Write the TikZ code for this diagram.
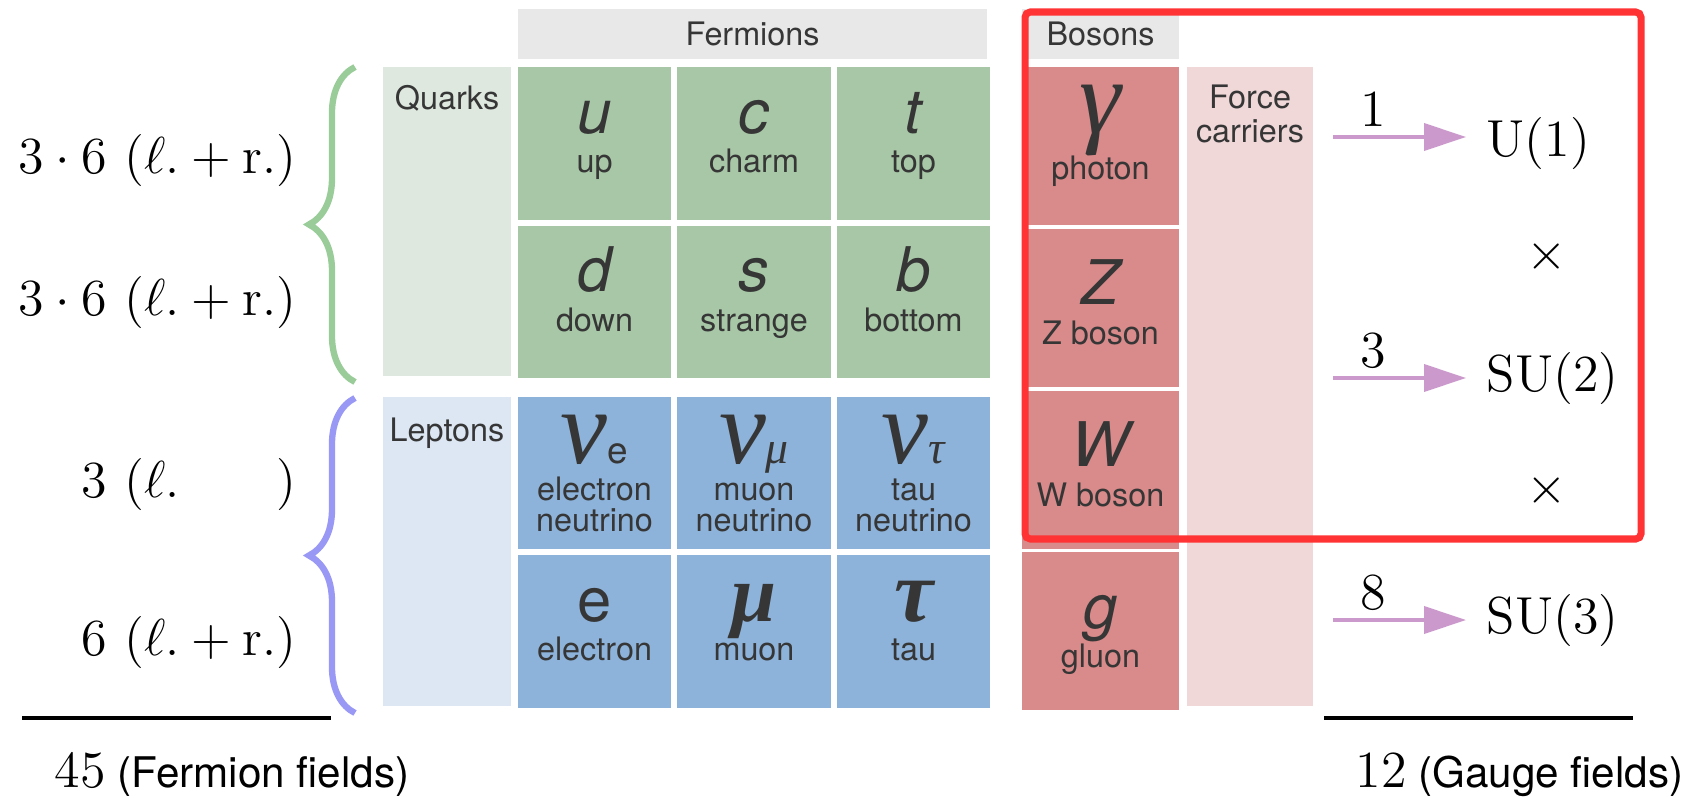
\RequirePackage{fix-cm}
\documentclass[tikz,border=0pt]{standalone}
\usepackage{amsmath}
\usepackage{fontspec}
\setsansfont{TeX Gyre Heros}
\newfontfamily\grk{Liberation Serif}
\usetikzlibrary{arrows.meta,positioning,calc,decorations.pathreplacing}
\definecolor{hdrgray}{HTML}{E8E8E8}
\definecolor{qkgreen}{HTML}{A7C7A7}
\definecolor{qkpale}{HTML}{DEE8DE}
\definecolor{lpblue}{HTML}{8DB3DA}
\definecolor{lppale}{HTML}{DCE7F3}
\definecolor{bsred}{HTML}{D98A8A}
\definecolor{bspale}{HTML}{F0D8D9}
\definecolor{brgreen}{HTML}{99CC99}
\definecolor{brblue}{HTML}{9999F5}
\definecolor{arrpink}{HTML}{CC99CC}
\definecolor{boxred}{HTML}{FF3333}
\definecolor{ink}{HTML}{363636}
\newcommand\cellfont{\sffamily\fontsize{9.2}{11.2}\selectfont}
\newcommand\mathsz{\fontsize{14.8}{17}\selectfont}
\newcommand\csym[1]{{\fontsize{17.5}{17.5}\selectfont\itshape\rule{0pt}{14pt}#1}}
\newcommand\gsym[2]{{\grk\fontsize{#1}{#1}\selectfont\rule{0pt}{14pt}#2}}
\newcommand\cname[2][8.7pt]{#2\rule[-#1]{0pt}{#1}}
\tikzset{
  hdr/.style={rectangle, fill=hdrgray, text=ink, font=\cellfont, minimum height=0.5cm, inner sep=0pt},
  cell/.style={rectangle, fill=#1, text=ink, font=\cellfont, align=center, inner sep=0pt,
               minimum width=1.53cm, minimum height=1.52cm},
  bcell/.style={cell=bsred, minimum width=1.57cm, minimum height=1.58cm},
  col/.style={rectangle, fill=#1, inner sep=0pt},
  collab/.style={text=ink, font=\cellfont, inner sep=0pt, anchor=north, align=center},
  mathlbl/.style={font=\mathsz, inner sep=0pt},
  curly/.style={decorate, decoration={brace, amplitude=0.46cm}, draw=#1, line width=1.8pt},
  garr/.style={-{Triangle[length=0.42cm, width=0.27cm]}, line width=1.1pt, draw=arrpink},
  grp/.style={font=\mathsz, anchor=west, inner sep=0.2cm},
  sumline/.style={line width=1.1pt},
  total/.style={font=\sffamily\fontsize{12}{14}\selectfont, anchor=base west, inner sep=0pt},
  redbox/.style={draw=boxred, line width=2pt, rounded corners=1.5pt},
}

\begin{document}
\begin{tikzpicture}[x=0.01cm, y=-0.01cm, node distance=0.05cm]
  \useasboundingbox (0,0) rectangle (1704,797);

  % headers
  \node[hdr, minimum width=4.69cm] (ferm) at (752.5,34) {Fermions};
  \node[hdr, minimum width=1.57cm] (bos) at (1100.5,34) {Bosons};

  % side columns
  \node[col=qkpale, minimum width=1.28cm, minimum height=3.09cm] (qcol) at (447,221.5) {};
  \node[col=lppale, minimum width=1.28cm, minimum height=3.09cm] (lcol) at (447,551.5) {};
  \node[col=bspale, minimum width=1.26cm, minimum height=6.39cm] (fcol) at (1250,386.5) {};
  \node[collab] (qlab) at ($(qcol.north)+(0,18)$) {Quarks};
  \node[collab] (llab) at ($(lcol.north)+(0,21)$) {Leptons};
  \node[collab, font=\sffamily\fontsize{9.2}{9.7}\selectfont] (flab) at ($(fcol.north)+(0,18)$) {Force\\carriers};

  % quarks
  \node[cell=qkgreen] (u) at (594.5,143.5) {\csym{u}\\\cname{up}};
  \node[cell=qkgreen, right=of u] (c) {\csym{c}\\\cname{charm}};
  \node[cell=qkgreen, right=of c] (t) {\csym{t}\\\cname{top}};
  \node[cell=qkgreen, below=of u] (d) {\csym{d}\\\cname{down}};
  \node[cell=qkgreen, right=of d] (s) {\csym{s}\\\cname{strange}};
  \node[cell=qkgreen, right=of s] (b) {\csym{b}\\\cname{bottom}};

  % leptons
  \node[cell=lpblue] (nue) at (594.5,473)
    {\gsym{30}{\itshape ν}{\fontsize{10.5}{10}\selectfont e}\\[-0.6pt]electron\\[-2.4pt]neutrino};
  \node[cell=lpblue, right=of nue] (num)
    {\gsym{30}{\itshape ν}{\grk\fontsize{13}{13}\selectfont\itshape μ}\\[-0.6pt]muon\\[-2.4pt]neutrino};
  \node[cell=lpblue, right=of num] (nut)
    {\gsym{30}{\itshape ν}{\grk\fontsize{13}{13}\selectfont\itshape τ}\\[-0.6pt]tau\\[-2.4pt]neutrino};
  \node[cell=lpblue, below=of nue] (el) {\csym{\upshape e}\\\cname{electron}};
  \node[cell=lpblue, right=of el] (mu) {\gsym{23}{\bfseries\itshape μ}\\\cname{muon}};
  \node[cell=lpblue, right=of mu] (ta) {\gsym{25}{\bfseries\itshape τ}\\\cname{tau}};

  % bosons
  \node[bcell] (gam) at (1100.5,146) {\gsym{30}{\itshape γ}\\[-1pt]\cname[8pt]{photon}};
  \node[bcell, below=0.023cm of gam] (zb) {\csym{Z}\\\cname[4.5pt]{Z boson}};
  \node[bcell, below=0.023cm of zb] (wb) {\csym{W}\\\cname[4.5pt]{W boson}};
  \node[bcell, below=0.023cm of wb] (gl) {\csym{g}\\\cname[4.5pt]{gluon}};

  % braces and counts
  \coordinate (qbot) at (355,382);
  \coordinate (qtop) at (355,67);
  \coordinate (lbot) at (355,713);
  \coordinate (ltop) at (355,398);
  \draw[curly=brgreen] (qbot) -- (qtop);
  \draw[curly=brblue] (lbot) -- (ltop);
  \node[mathlbl, anchor=east] (q1) at (297,160) {$3\cdot6\ (\ell.+\mathrm{r}.)$};
  \node[mathlbl, anchor=east] (q2) at (297,302) {$3\cdot6\ (\ell.+\mathrm{r}.)$};
  \node[mathlbl, anchor=east] (l1) at (297,484) {$3\ (\ell.\phantom{{}+\mathrm{r}.})$};
  \node[mathlbl, anchor=east] (l2) at (297,642) {$6\ (\ell.+\mathrm{r}.)$};

  % gauge groups
  \node[grp] (u1) at (1466,143) {$\mathrm{U}(1)$};
  \node[grp] (su2) at (1466,378) {$\mathrm{SU}(2)$};
  \node[grp] (su3) at (1466,620) {$\mathrm{SU}(3)$};
  \node[mathlbl] (x1) at (1547,256) {$\times$};
  \node[mathlbl] (x2) at (1547,490) {$\times$};
  \coordinate (s1) at (1333,137);
  \coordinate (s2) at (1333,378);
  \coordinate (s3) at (1333,620);
  \draw[garr] (s1) -- (s1 -| u1.west) node[pos=0.3, above=2.5pt, mathlbl] {$1$};
  \draw[garr] (s2) -- (s2 -| su2.west) node[pos=0.3, above=2.5pt, mathlbl] {$3$};
  \draw[garr] (s3) -- (s3 -| su3.west) node[pos=0.3, above=2.5pt, mathlbl] {$8$};

  % totals
  \draw[sumline] (22,718) -- (331,718);
  \draw[sumline] (1324,718) -- (1633,718);
  \node[total] (ftot) at (54,787) {{\mathsz$45$}\ (Fermion fields)};
  \node[total] (gtot) at (1355,787) {{\mathsz$12$}\ (Gauge fields)};

  \draw[redbox] (1025,12) rectangle (1641,539);
\end{tikzpicture}
\end{document}
